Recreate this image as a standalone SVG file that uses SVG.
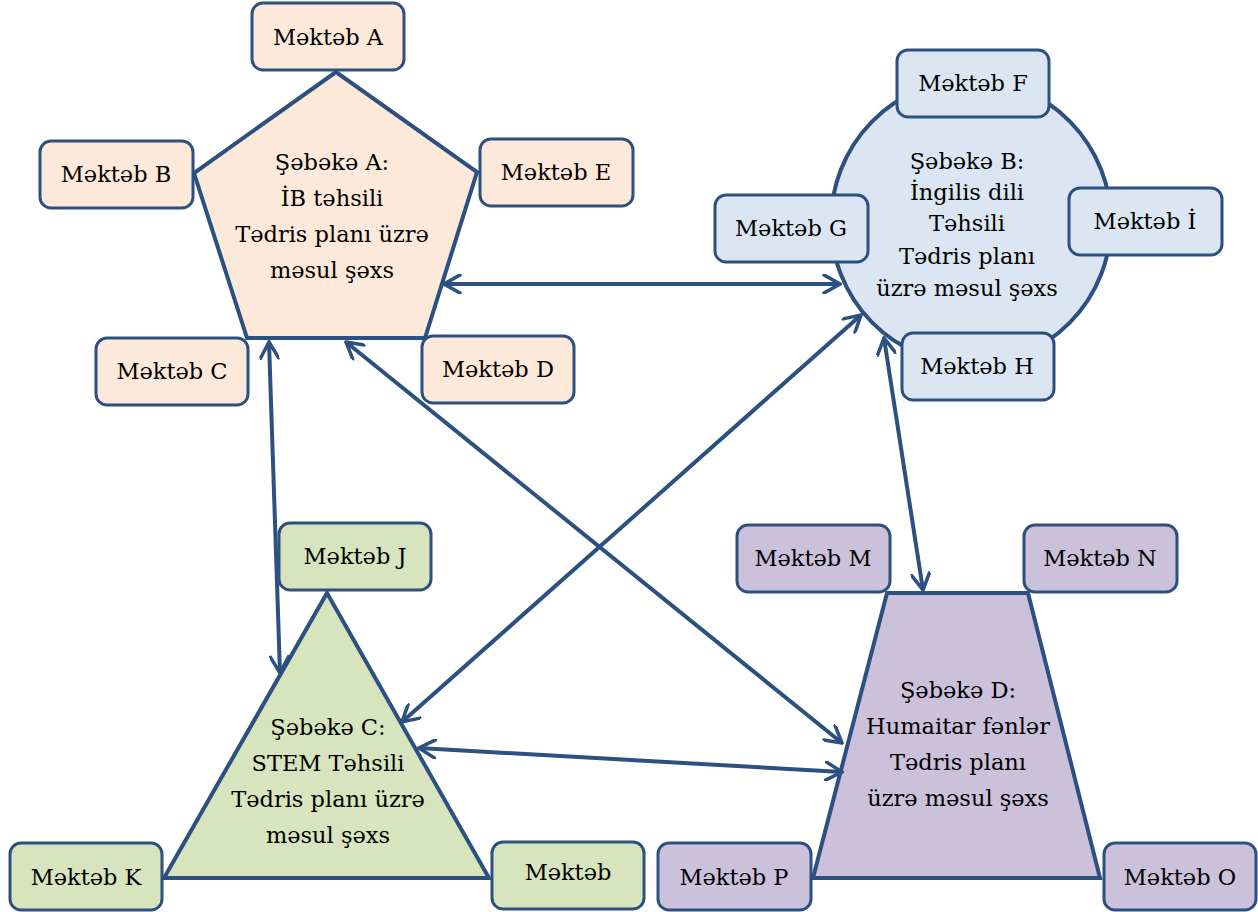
<svg xmlns="http://www.w3.org/2000/svg" width="1258" height="912" viewBox="0 0 1258 912">
<style>
.shape{stroke:#2c5080;stroke-width:4;stroke-linejoin:miter}
.box{stroke:#2c5080;stroke-width:3}
.pa{fill:#fde9d9}
.pb{fill:#dce6f2}
.pc{fill:#d7e4bd}
.pd{fill:#ccc1da}
text{font-family:"DejaVu Serif","Liberation Serif",serif;font-size:22.5px;fill:#000000;text-anchor:middle}
.conn line{stroke:#2c5080;stroke-width:4;marker-start:url(#ah);marker-end:url(#ah)}
</style>
<defs>
<marker id="ah" viewBox="0 0 20 20" refX="18" refY="10" markerWidth="20" markerHeight="20" markerUnits="userSpaceOnUse" orient="auto-start-reverse">
<path d="M2,1 L18,10 L2,19" fill="none" stroke="#2c5080" stroke-width="3.5" stroke-linecap="round" stroke-linejoin="miter"/>
</marker>
</defs>
<rect width="1258" height="912" fill="#ffffff"/>

<g id="network-a">
<polygon class="shape pa" points="336,72 194,173 247,338 425,338 477,172"/>
<text x="332" y="170">Şəbəkə A:</text>
<text x="332" y="206">İB təhsili</text>
<text x="332" y="242">Tədris planı üzrə</text>
<text x="332" y="278">məsul şəxs</text>
</g>
<g id="network-b">
<ellipse class="shape pb" cx="971" cy="222" rx="140" ry="142"/>
<text x="967" y="169">Şəbəkə B:</text>
<text x="967" y="200">İngilis dili</text>
<text x="967" y="231">Təhsili</text>
<text x="967" y="264">Tədris planı</text>
<text x="967" y="296">üzrə məsul şəxs</text>
</g>
<g id="network-c">
<polygon class="shape pc" points="327,593 164,878 489,878"/>
<text x="328" y="735">Şəbəkə C:</text>
<text x="328" y="771">STEM Təhsili</text>
<text x="328" y="807">Tədris planı üzrə</text>
<text x="328" y="843">məsul şəxs</text>
</g>
<g id="network-d">
<polygon class="shape pd" points="887,593 1028,593 1100,878 813,878"/>
<text x="958" y="698">Şəbəkə D:</text>
<text x="958" y="734">Humaitar fənlər</text>
<text x="958" y="770">Tədris planı</text>
<text x="958" y="806">üzrə məsul şəxs</text>
</g>

<g id="connectors" class="conn">
<line x1="444" y1="284" x2="840" y2="284"/>
<line x1="269" y1="342" x2="280" y2="673"/>
<line x1="346" y1="342" x2="842" y2="743"/>
<line x1="861" y1="315" x2="402" y2="722"/>
<line x1="884" y1="338" x2="923" y2="590"/>
<line x1="419" y1="748" x2="842" y2="772"/>
</g>

<g id="school-a"><rect class="box pa" x="252" y="3" width="152" height="67" rx="11"/><text x="328" y="45">Məktəb A</text></g>
<g id="school-b"><rect class="box pa" x="40" y="141" width="153" height="67" rx="11"/><text x="116" y="182">Məktəb B</text></g>
<g id="school-e"><rect class="box pa" x="480" y="139" width="153" height="67" rx="11"/><text x="556" y="180">Məktəb E</text></g>
<g id="school-c"><rect class="box pa" x="96" y="338" width="152" height="67" rx="11"/><text x="172" y="379">Məktəb C</text></g>
<g id="school-d"><rect class="box pa" x="422" y="336" width="152" height="67" rx="11"/><text x="498" y="377">Məktəb D</text></g>

<g id="school-f"><rect class="box pb" x="897" y="50" width="152" height="67" rx="11"/><text x="973" y="91">Məktəb F</text></g>
<g id="school-g"><rect class="box pb" x="715" y="195" width="153" height="67" rx="11"/><text x="791" y="236">Məktəb G</text></g>
<g id="school-i"><rect class="box pb" x="1069" y="188" width="153" height="67" rx="11"/><text x="1145" y="229">Məktəb İ</text></g>
<g id="school-h"><rect class="box pb" x="902" y="333" width="152" height="67" rx="11"/><text x="977" y="374">Məktəb H</text></g>

<g id="school-j"><rect class="box pc" x="279" y="523" width="152" height="67" rx="11"/><text x="355" y="564">Məktəb J</text></g>
<g id="school-k"><rect class="box pc" x="10" y="843" width="152" height="67" rx="11"/><text x="86" y="885">Məktəb K</text></g>
<g id="school-l"><rect class="box pc" x="492" y="842" width="152" height="67" rx="11"/><text x="568" y="880">Məktəb</text></g>

<g id="school-m"><rect class="box pd" x="737" y="525" width="153" height="67" rx="11"/><text x="813" y="566">Məktəb M</text></g>
<g id="school-n"><rect class="box pd" x="1024" y="525" width="153" height="67" rx="11"/><text x="1100" y="566">Məktəb N</text></g>
<g id="school-p"><rect class="box pd" x="658" y="843" width="153" height="67" rx="11"/><text x="734" y="885">Məktəb P</text></g>
<g id="school-o"><rect class="box pd" x="1104" y="843" width="152" height="67" rx="11"/><text x="1180" y="885">Məktəb O</text></g>
</svg>
